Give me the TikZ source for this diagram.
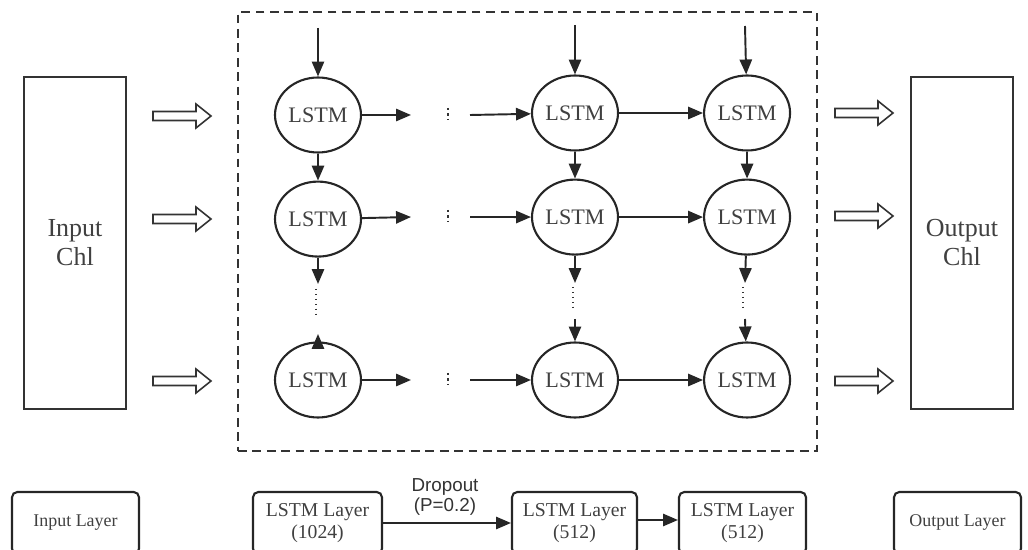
\documentclass[tikz,border=0pt]{standalone}
\usepackage{fontspec}
\setmainfont{Liberation Serif}
\newfontfamily\dropfont{Liberation Sans}
\usepackage{tikz}
\usetikzlibrary{positioning}
\usetikzlibrary{shapes.geometric}
\usetikzlibrary{arrows.meta}

\tikzset{
    hollowarrow/.pic={
        \draw[line width=0.9pt, black!80] (-29,-4.5) -- (14,-4.5) -- (14,-12) -- (29,0)
            -- (14,12) -- (14,4.5) -- (-29,4.5) -- cycle;
    }
}

\begin{document}
\begin{tikzpicture}[x=0.02cm, y=-0.02cm,
    lstm/.style={ellipse, draw=black!85, line width=1.2pt, minimum width=1.72cm, minimum height=1.5cm,
        inner sep=0pt, font=\fontsize{12.6}{14}\selectfont, text=black!75},
    chl/.style={rectangle, draw=black!80, line width=0.9pt, minimum width=2.04cm, minimum height=6.64cm,
        align=center, font=\fontsize{14.8}{16.5}\selectfont, text=black!75},
    layer/.style={rectangle, rounded corners=3pt, draw=black!85, line width=1.2pt, minimum height=1.24cm,
        align=center, font=\fontsize{10.2}{12.5}\selectfont, text=black!75},
    lstmlayer/.style={layer, font=\fontsize{11.2}{12.8}\selectfont},
    arr/.style={-{Triangle[length=8.5pt,width=7pt]}, line width=1.1pt, draw=black!85},
    dots/.style={dotted, line width=0.8pt, draw=black!80},
    skip/.style={line width=1.3pt, dash pattern=on 1.3pt off 1.8pt, draw=black!80}
]
    \useasboundingbox (0,0) rectangle (1028,550);

    % channels
    \node[chl] (inch) at (75,243) {Input\\Chl};
    \node[chl] (outch) at (962,243) {Output\\Chl};

    \node[draw=black!80, dash pattern=on 5pt off 3.2pt, line width=0.9pt,
        minimum width=11.58cm, minimum height=8.78cm] (frame) at (527.5,231.5) {};

    \pic (ia1) at (182,116) {hollowarrow};
    \pic (ia2) at (182,219) {hollowarrow};
    \pic (ia3) at (182,381) {hollowarrow};
    \pic (oa1) at (864,113) {hollowarrow};
    \pic (oa2) at (864,216) {hollowarrow};
    \pic (oa3) at (864,381) {hollowarrow};

    % lstm cells
    \node[lstm] (r1c1) at (318,115) {LSTM};
    \node[lstm, below=0.54cm of r1c1] (r2c1) {LSTM};
    \node[lstm] (r3c1) at (318,380) {LSTM};

    \node[lstm] (r1c2) at (575,113) {LSTM};
    \node[lstm, below=0.54cm of r1c2] (r2c2) {LSTM};
    \node[lstm] (r3c2) at (575,380) {LSTM};

    \node[lstm, right=1.68cm of r1c2] (r1c3) {LSTM};
    \node[lstm, right=1.68cm of r2c2] (r2c3) {LSTM};
    \node[lstm, right=1.68cm of r3c2] (r3c3) {LSTM};

    % inputs from the top
    \coordinate (t1) at (318,28);
    \coordinate (t2) at (575,25);
    \coordinate (t3) at (745,26);
    \draw[arr] (t1) -- (r1c1);
    \draw[arr] (t2) -- (r1c2);
    \draw[arr] (t3) -- (r1c3);

    \draw[arr] (r1c1) -- (r2c1);
    \draw[arr] (r1c2) -- (r2c2);
    \draw[arr] (r1c3) -- (r2c3);

    % gaps between rows
    \coordinate (g1) at (318,284);
    \coordinate (g2) at (575,283);
    \coordinate (g3) at (745,283);
    \draw[arr] (r2c1) -- (g1);
    \draw[arr] (r2c2) -- (g2);
    \draw[arr] (r2c3) -- (g3);

    \draw[dots] (316,289) -- (316,314);
    \draw[dots] (573,287) -- (573,311);
    \draw[dots] (743,287) -- (743,311);

    \coordinate (u1) at (318,334);
    \draw[arr] ([yshift=-4pt]r3c1.north) -- (u1);
    \coordinate (h2) at (575,319);
    \coordinate (h3) at (745,319);
    \draw[arr] (h2) -- (r3c2);
    \draw[arr] (h3) -- (r3c3);

    % steps in time
    \foreach \r/\y in {1/115, 2/217, 3/380}{
        \coordinate (a\r) at (411,\y);
        \coordinate (b\r) at (470,\y);
        \draw[skip] (448,\y-7) -- (448,\y+4);
        \draw[arr] (r\r c1) -- (a\r);
        \draw[arr] (b\r) -- (r\r c2);
        \draw[arr] (r\r c2) -- (r\r c3);
    }

    % layers
    \node[layer, minimum width=2.54cm] (inl) at (75.5,523) {Input Layer};
    \node[lstmlayer, minimum width=2.58cm] (l1) at (317.5,523) {LSTM Layer\\(1024)};
    \node[lstmlayer, minimum width=2.5cm] (l2) at (574.5,523) {LSTM Layer\\(512)};
    \node[lstmlayer, minimum width=2.54cm] (l3) at (742.5,523) {LSTM Layer\\(512)};
    \node[layer, minimum width=2.54cm] (outl) at (957.5,523) {Output Layer};

    \draw[arr] (l1.east |- 0,523) -- (l2.west |- 0,523);
    \draw[arr] (l2.east |- 0,520) -- (l3.west |- 0,520);
    \node[align=center, inner sep=0pt, font=\dropfont\fontsize{10.7}{11}\selectfont, text=black!80]
        (drop) at (445,497) {Dropout\\(P=0.2)};

\end{tikzpicture}
\end{document}
